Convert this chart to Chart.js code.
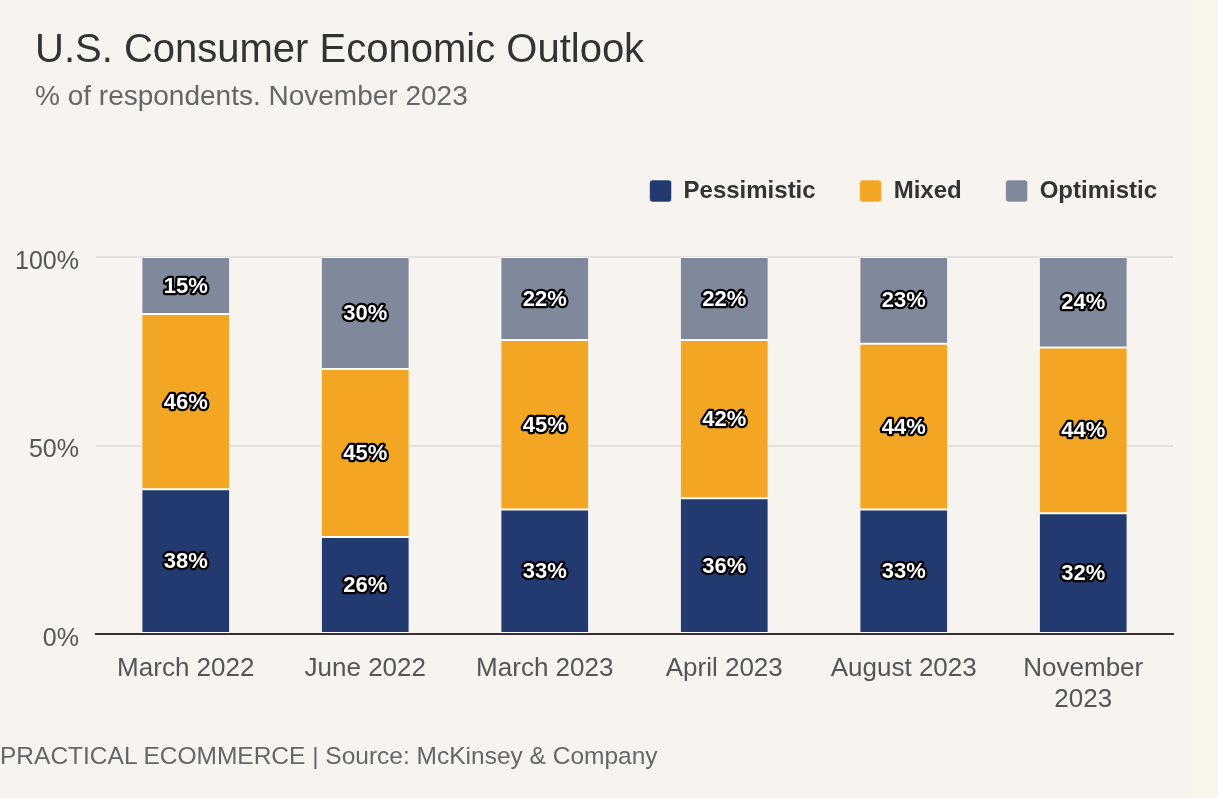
<!DOCTYPE html>
<html>
<head>
<meta charset="utf-8">
<script src="https://cdn.jsdelivr.net/npm/chart.js@4"></script>
<style>
  html, body { margin: 0; padding: 0; background: #f7f3ef; width: 1218px; height: 798px; overflow: hidden; font-family: "Liberation Sans", Arial, sans-serif; }
  #wrap { position: absolute; left: 0; top: 0; width: 1218px; height: 798px; }
  #strip { position: absolute; right: 0; top: 0; width: 28px; height: 798px; background: #f8f5eb; }
  .t { position: absolute; white-space: nowrap; }
  #title { left: 35px; top: 26px; font-size: 40px; color: #333; }
  #sub { left: 35px; top: 80px; font-size: 28px; color: #666; }
  #foot { left: 0px; top: 742px; font-size: 24.5px; color: #666; }
</style>
</head>
<body>
<div id="strip"></div>
<div id="wrap"><canvas id="c" width="1218" height="798"></canvas></div>
<div class="t" id="title">U.S. Consumer Economic Outlook</div>
<div class="t" id="sub">% of respondents. November 2023</div>
<div class="t" id="foot">PRACTICAL ECOMMERCE | Source: McKinsey &amp; Company</div>
<script>
const categories = [["March 2022"], ["June 2022"], ["March 2023"], ["April 2023"], ["August 2023"], ["November", "2023"]];
const pessimistic = [38, 26, 33, 36, 33, 32];
const mixed = [46, 45, 45, 42, 44, 44];
const optimistic = [15, 30, 22, 22, 23, 24];
const yTicks = [0, 50, 100];

const FONT = '"Liberation Sans", Arial, sans-serif';

// Each bar is drawn as a share of its own total so every stack fills 0-100%.
const totals = pessimistic.map((v, i) => v + mixed[i] + optimistic[i]);
const share = (arr) => arr.map((v, i) => v / totals[i] * 100);

const labelPlugin = {
  id: 'barLabels',
  afterDatasetsDraw(chart) {
    const ctx = chart.ctx;
    ctx.save();
    ctx.font = 'bold 22px ' + FONT;
    ctx.textAlign = 'center';
    ctx.textBaseline = 'middle';
    ctx.lineJoin = 'round';
    chart.data.datasets.forEach((ds, di) => {
      const meta = chart.getDatasetMeta(di);
      meta.data.forEach((bar, i) => {
        const v = ds.raw[i];
        const y = (bar.y + bar.base) / 2 + 1;
        const txt = v + '%';
        ctx.lineWidth = 4.5;
        ctx.strokeStyle = '#000';
        ctx.strokeText(txt, bar.x, y);
        ctx.fillStyle = '#fff';
        ctx.fillText(txt, bar.x, y);
      });
    });
    ctx.restore();
  }
};

const legendLayout = {
  id: 'legendLayout',
  beforeLayout(chart) {
    const lg = chart.legend;
    if (lg && !lg._patched) {
      const orig = lg.fit;
      lg.fit = function () { orig.call(this); this.height = 122; };
      lg._patched = true;
    }
  },
  afterLayout(chart) {
    const lg = chart.legend;
    if (lg) { lg.left += 28; lg.right += 28; }
  }
};

const border = { top: 1, bottom: 1, left: 0, right: 0 };
new Chart(document.getElementById('c'), {
  type: 'bar',
  data: {
    labels: categories,
    datasets: [
      { label: 'Pessimistic', raw: pessimistic, data: share(pessimistic), backgroundColor: '#223a70', borderColor: '#ffffff', borderWidth: border, borderSkipped: false },
      { label: 'Mixed', raw: mixed, data: share(mixed), backgroundColor: '#f2a623', borderColor: '#ffffff', borderWidth: border, borderSkipped: false },
      { label: 'Optimistic', raw: optimistic, data: share(optimistic), backgroundColor: '#7f899b', borderColor: '#ffffff', borderWidth: border, borderSkipped: false }
    ]
  },
  options: {
    responsive: false,
    animation: false,
    layout: { padding: { top: 135, right: 45, bottom: 64, left: 0 } },
    datasets: { bar: { barPercentage: 0.97, categoryPercentage: 0.5 } },
    plugins: {
      legend: {
        position: 'top',
        align: 'end',
        labels: {
          boxWidth: 22, boxHeight: 22, useBorderRadius: true, borderRadius: 3,
          color: '#333', padding: 44,
          font: { family: FONT, size: 24, weight: 'bold' }
        }
      },
      tooltip: { enabled: false },
      title: { display: false }
    },
    scales: {
      x: {
        stacked: true,
        grid: { display: false, drawTicks: false },
        border: { display: true, color: '#333', width: 2 },
        ticks: { color: '#555', padding: 19, maxRotation: 0, autoSkip: false,
          font: { family: FONT, size: 26 } },
        afterFit: (s) => { s.height = 100; }
      },
      y: {
        stacked: true,
        min: 0, max: 100,
        afterBuildTicks: (s) => { s.ticks = yTicks.map(v => ({ value: v })); },
        grid: { color: '#e4e0dc', lineWidth: 2, drawTicks: false },
        border: { display: false },
        ticks: { color: '#555', padding: 17, labelOffset: 5, callback: (v) => v + '%',
          font: { family: FONT, size: 25 } },
        afterFit: (s) => { s.width = 96; }
      }
    }
  },
  plugins: [labelPlugin, legendLayout]
});
</script>
</body>
</html>
